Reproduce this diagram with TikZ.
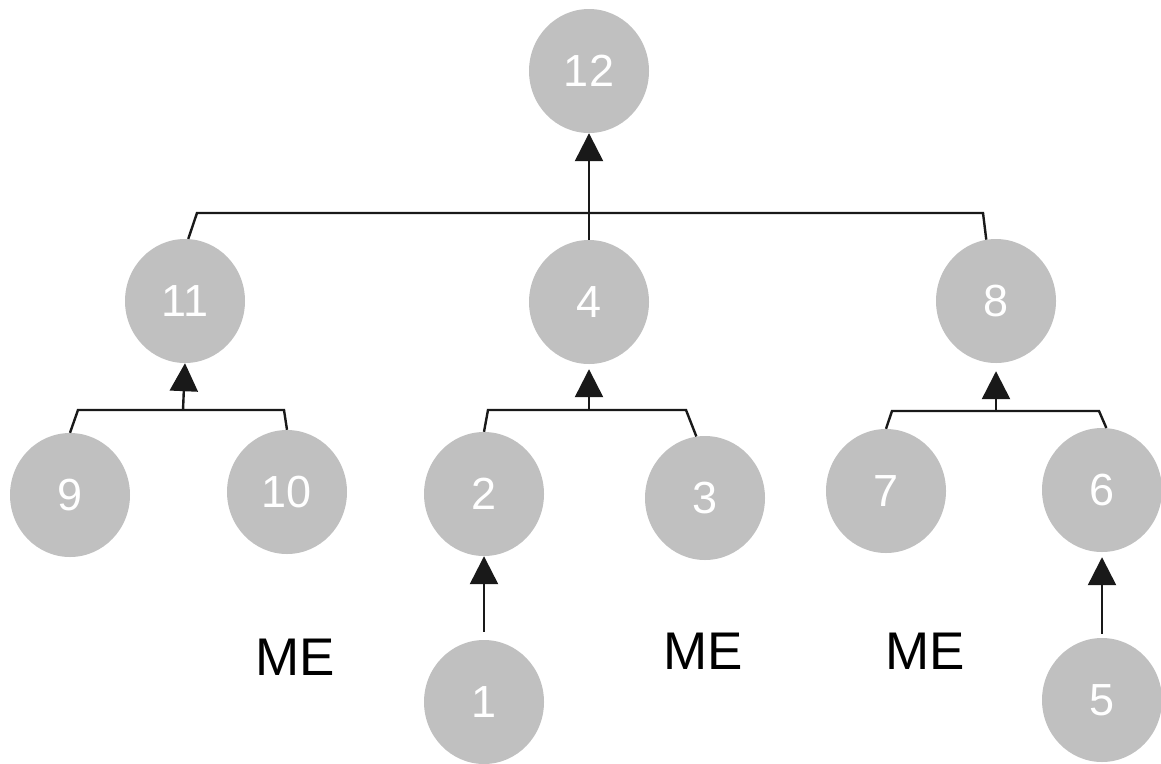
\documentclass[tikz,border=0pt]{standalone}
\usepackage{fontspec}
\setmainfont{Liberation Sans}
\usetikzlibrary{arrows.meta,shapes.geometric}
\definecolor{nodegray}{RGB}{192,192,192}
\definecolor{inkline}{RGB}{25,25,25}

\begin{document}
\begin{tikzpicture}[x=1pt,y=-1pt,
  vertex/.style={ellipse, fill=nodegray, minimum width=120pt, minimum height=124pt,
    inner sep=0pt, text=white, font=\fontsize{45}{45}\selectfont},
  link/.style={line width=2.4pt, draw=inkline, line join=miter},
  up/.style={link, -{Triangle[width=28pt,length=28pt]}},
  melabel/.style={font=\fontsize{53}{53}\selectfont, text=black, inner sep=0pt}]
\useasboundingbox (0,0) rectangle (1161,763);

% tree nodes
\node[vertex] (n12) at (589,71)   {12};
\node[vertex] (n11) at (185,301)  {11};
\node[vertex] (n4)  at (589,302)  {4};
\node[vertex] (n8)  at (996,301)  {8};
\node[vertex] (n9)  at (70,495)   {9};
\node[vertex] (n10) at (287,492)  {10};
\node[vertex] (n2)  at (484,494)  {2};
\node[vertex] (n3)  at (705,498)  {3};
\node[vertex] (n7)  at (886,491)  {7};
\node[vertex] (n6)  at (1102,490) {6};
\node[vertex] (n1)  at (484,702)  {1};
\node[vertex] (n5)  at (1102,700) {5};

% labels
\node[melabel] (me1) at (295,657) {ME};
\node[melabel] (me2) at (703,651) {ME};
\node[melabel] (me3) at (925,651) {ME};

% bar corners
\coordinate (tbL) at (197,213);
\coordinate (tbR) at (983,213);
\coordinate (lbL) at (78,410);
\coordinate (lbR) at (284,410);
\coordinate (lbM) at (183,410);
\coordinate (mbL) at (488,410);
\coordinate (mbR) at (686,410);
\coordinate (mbM) at (589,410);
\coordinate (rbL) at (892,411);
\coordinate (rbR) at (1099,411);
\coordinate (rbM) at (996,411);

% top level
\draw[link] (n11.87) -- (tbL) -- (tbR) -- (n8.99);
\draw[up] (n4.north) -- (n12.south);

% left group
\draw[link] (n9.north) -- (lbL) -- (lbR) -- (n10.north);
\draw[up] (lbM) -- (n11.south);

% middle group
\draw[link] (n2.north) -- (mbL) -- (mbR) -- (n3.98);
\draw[up, shorten >=5pt] (mbM) -- (n4.south);
\draw[up, shorten <=8pt] (n1.north) -- (n2.south);

% right group
\draw[link] (n7.north) -- (rbL) -- (rbR) -- (n6.86);
\draw[up, shorten >=8pt] (rbM) -- (n8.south);
\draw[up, shorten <=4pt, shorten >=5pt] (n5.north) -- (n6.south);
\end{tikzpicture}
\end{document}
